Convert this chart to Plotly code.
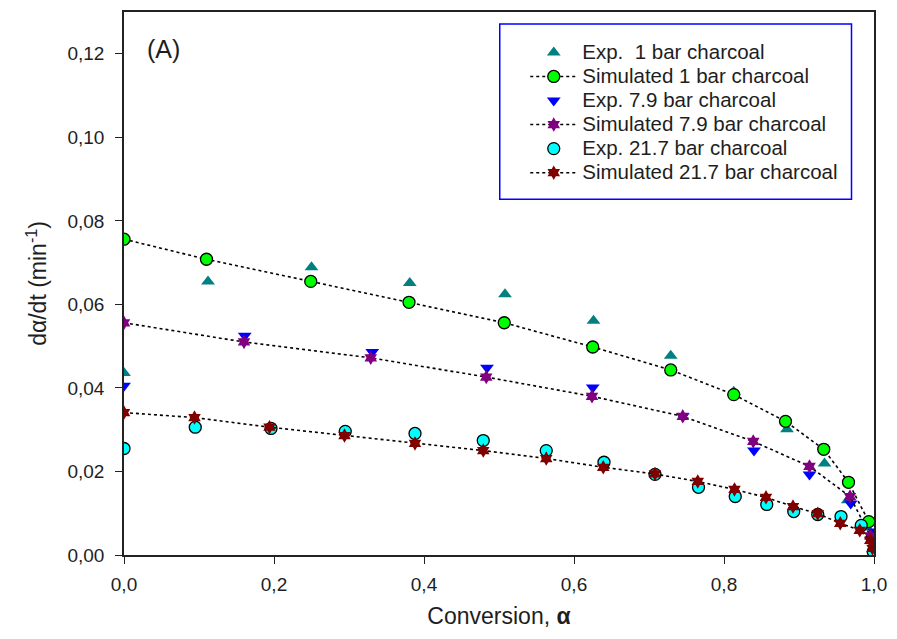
import plotly.graph_objects as go

# Exp. 1 bar charcoal
exp1_x = [0.0, 0.112, 0.250, 0.381, 0.508, 0.626, 0.729, 0.813, 0.884, 0.934, 0.965, 0.99]
exp1_y = [0.0436, 0.0655, 0.0689, 0.0651, 0.0624, 0.0561, 0.0477, 0.0391, 0.0301, 0.0219, 0.0131, 0.0066]
# Simulated 1 bar charcoal
sim1_x = [0.0, 0.110, 0.249, 0.380, 0.507, 0.625, 0.729, 0.813, 0.882, 0.933, 0.966, 0.993]
sim1_y = [0.0756, 0.0708, 0.0655, 0.0605, 0.0556, 0.0498, 0.0443, 0.0384, 0.0320, 0.0253, 0.0174, 0.0080]
# Exp. 7.9 bar charcoal
exp79_x = [0.0, 0.161, 0.331, 0.484, 0.625, 0.745, 0.840, 0.914, 0.969, 1.0]
exp79_y = [0.0405, 0.0525, 0.0486, 0.0448, 0.0401, 0.0332, 0.0250, 0.0193, 0.0123, 0.0056]
# Simulated 7.9 bar charcoal
sim79_x = [0.0, 0.160, 0.329, 0.483, 0.624, 0.745, 0.839, 0.914, 0.968, 0.995]
sim79_y = [0.0556, 0.0510, 0.0472, 0.0426, 0.0380, 0.0332, 0.0272, 0.0212, 0.0140, 0.0046]
# Exp. 21.7 bar charcoal
exp217_x = [0.0, 0.095, 0.196, 0.295, 0.388, 0.479, 0.563, 0.640, 0.708, 0.766, 0.815, 0.857,
            0.893, 0.925, 0.956, 0.983, 0.999]
exp217_y = [0.0255, 0.0306, 0.0303, 0.0296, 0.0291, 0.0274, 0.0250, 0.0222, 0.0193, 0.0162, 0.0140,
            0.0121, 0.0104, 0.0097, 0.0092, 0.0071, 0.0008]
# Simulated 21.7 bar charcoal
sim217_x = [0.0, 0.094, 0.194, 0.294, 0.388, 0.479, 0.563, 0.639, 0.708, 0.765, 0.814, 0.856,
            0.892, 0.925, 0.955, 0.981, 0.995, 0.998]
sim217_y = [0.0341, 0.0329, 0.0306, 0.0286, 0.0267, 0.0250, 0.0231, 0.0210, 0.0194, 0.0176, 0.0157,
            0.0138, 0.0116, 0.0099, 0.0076, 0.0059, 0.0035, 0.0016]

x_ticks = [0.0, 0.2, 0.4, 0.6, 0.8, 1.0]
y_ticks = [0.00, 0.02, 0.04, 0.06, 0.08, 0.10, 0.12]

FONT = "Liberation Sans, Arial"
TXT = "#1e1e1e"


def leg(name):
    return '<span style="font-size:20.5px">' + name + '</span>'


fig = go.Figure()

dot_line = dict(color="black", width=1.6, dash="dot")

fig.add_trace(go.Scatter(x=exp1_x, y=exp1_y, mode="markers", name=leg("Exp.  1 bar charcoal"),
                         marker=dict(symbol="triangle-up", size=12, color="#008080")))
fig.add_trace(go.Scatter(x=sim1_x, y=sim1_y, mode="lines+markers", name=leg("Simulated 1 bar charcoal"),
                         line=dot_line,
                         marker=dict(symbol="circle", size=12, color="#00ff00",
                                     line=dict(color="black", width=1.3))))
fig.add_trace(go.Scatter(x=exp79_x, y=exp79_y, mode="markers", name=leg("Exp. 7.9 bar charcoal"),
                         marker=dict(symbol="triangle-down", size=12, color="#0000ff")))
fig.add_trace(go.Scatter(x=sim79_x, y=sim79_y, mode="lines+markers", name=leg("Simulated 7.9 bar charcoal"),
                         line=dot_line,
                         marker=dict(symbol="hexagram", size=11, color="#800080")))
fig.add_trace(go.Scatter(x=exp217_x, y=exp217_y, mode="markers", name=leg("Exp. 21.7 bar charcoal"),
                         marker=dict(symbol="circle", size=12, color="#00ffff",
                                     line=dict(color="black", width=1.3))))
fig.add_trace(go.Scatter(x=sim217_x, y=sim217_y, mode="lines+markers", name=leg("Simulated 21.7 bar charcoal"),
                         line=dot_line,
                         marker=dict(symbol="hexagram", size=11, color="#800000")))

axis_common = dict(showline=True, linecolor="#222222", linewidth=1.5, mirror=True,
                   ticks="outside", ticklen=7, tickwidth=1.3, tickcolor="#222222",
                   showgrid=False, zeroline=False,
                   tickfont=dict(family=FONT, size=19, color=TXT))

fig.update_xaxes(range=[0, 1.0], tickvals=x_ticks, tickformat=".1f", ticklabelstandoff=4,
                 title=dict(text="Conversion, <b>α</b>", standoff=14,
                            font=dict(family=FONT, size=23, color=TXT)),
                 **axis_common)
fig.update_yaxes(range=[0, 0.130], tickvals=y_ticks, tickformat=".2f", ticklabelstandoff=7,
                 title=dict(text="dα/dt (min<sup>-1</sup>)", standoff=14,
                            font=dict(family=FONT, size=23, color=TXT)),
                 **axis_common)

fig.add_shape(type="rect", xref="paper", yref="paper", x0=0.501, x1=0.970, y0=0.655, y1=0.978,
              line=dict(color="#0000ff", width=1.5), fillcolor="rgba(0,0,0,0)")

fig.add_annotation(x=0.053, y=0.931, xref="paper", yref="paper", text="(A)", showarrow=False,
                   xanchor="center", yanchor="middle",
                   font=dict(family=FONT, size=25, color=TXT))

fig.update_layout(
    width=897, height=639,
    margin=dict(l=124, r=17, t=10, b=84),
    paper_bgcolor="white", plot_bgcolor="white",
    separators=",.",
    showlegend=True,
    legend=dict(x=0.535, y=0.957, xanchor="left", yanchor="top",
                bgcolor="rgba(0,0,0,0)", borderwidth=0, tracegroupgap=0,
                itemwidth=47,
                font=dict(family=FONT, size=16.2, color=TXT)),
)

fig.write_html("out.html")
